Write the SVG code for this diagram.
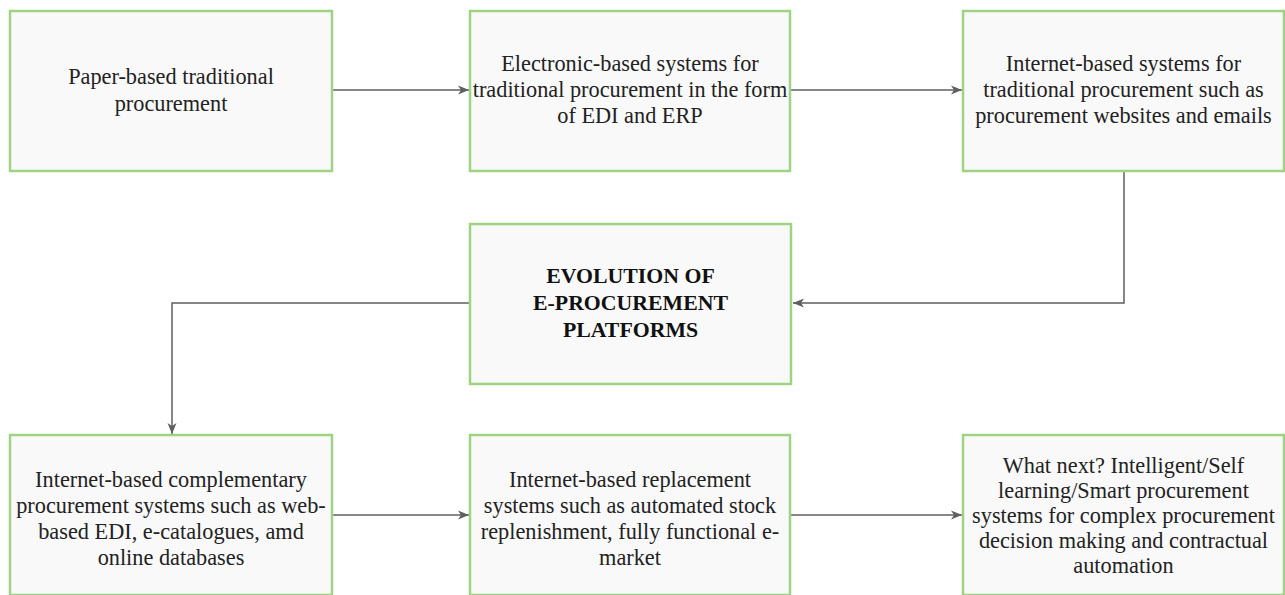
<svg xmlns="http://www.w3.org/2000/svg" width="1285" height="595" viewBox="0 0 1285 595">
  <defs>
    <style>
      .box { fill: #f9f9f9; stroke: #9fd384; stroke-width: 2.5; }
      .t { font-family: "Liberation Serif", "Times New Roman", serif; font-size: 22.3px; fill: #222; text-anchor: middle; }
      .b { font-family: "Liberation Serif", "Times New Roman", serif; font-size: 21.8px; font-weight: bold; fill: #111; text-anchor: middle; }
      .c { fill: none; stroke: #5f5f5f; stroke-width: 1.5; }
    </style>
    <marker id="arr" markerUnits="userSpaceOnUse" markerWidth="12" markerHeight="10" refX="11" refY="5" orient="auto">
      <path d="M0,0.5 L11,5 L0,9.5 L3,5 Z" fill="#5f5f5f"/>
    </marker>
  </defs>
  <rect width="1285" height="595" fill="#ffffff"/>

  <g id="connectors">
    <path class="c" d="M332,90 L469,90" marker-end="url(#arr)"/>
    <path class="c" d="M790,90 L962,90" marker-end="url(#arr)"/>
    <path class="c" d="M1124,171 L1124,303 L793,303" marker-end="url(#arr)"/>
    <path class="c" d="M470,303 L172,303 L172,434" marker-end="url(#arr)"/>
    <path class="c" d="M332,515 L469,515" marker-end="url(#arr)"/>
    <path class="c" d="M790,515 L962,515" marker-end="url(#arr)"/>
  </g>

  <g id="n1">
    <rect class="box" x="10" y="11" width="322" height="160"/>
    <text class="t" x="171" y="84">Paper-based traditional</text>
    <text class="t" x="171" y="111">procurement</text>
  </g>
  <g id="n2">
    <rect class="box" x="470" y="11" width="320" height="160"/>
    <text class="t" x="630" y="71">Electronic-based systems for</text>
    <text class="t" x="630" y="97">traditional procurement in the form</text>
    <text class="t" x="630" y="123">of EDI and ERP</text>
  </g>
  <g id="n3">
    <rect class="box" x="963" y="11" width="321" height="160"/>
    <text class="t" x="1123.5" y="71">Internet-based systems for</text>
    <text class="t" x="1123.5" y="97">traditional procurement such as</text>
    <text class="t" x="1123.5" y="123">procurement websites and emails</text>
  </g>
  <g id="center">
    <rect class="box" x="470" y="224" width="321" height="160"/>
    <text class="b" x="630.5" y="283">EVOLUTION OF</text>
    <text class="b" x="630.5" y="310">E-PROCUREMENT</text>
    <text class="b" x="630.5" y="337">PLATFORMS</text>
  </g>
  <g id="n4">
    <rect class="box" x="10" y="435" width="322" height="160"/>
    <text class="t" x="171" y="487">Internet-based complementary</text>
    <text class="t" x="171" y="513">procurement systems such as web-</text>
    <text class="t" x="171" y="539">based EDI, e-catalogues, amd</text>
    <text class="t" x="171" y="565">online databases</text>
  </g>
  <g id="n5">
    <rect class="box" x="470" y="435" width="320" height="160"/>
    <text class="t" x="630" y="487">Internet-based replacement</text>
    <text class="t" x="630" y="513">systems such as automated stock</text>
    <text class="t" x="630" y="539">replenishment, fully functional e-</text>
    <text class="t" x="630" y="565">market</text>
  </g>
  <g id="n6">
    <rect class="box" x="963" y="435" width="321" height="160"/>
    <text class="t" x="1123.5" y="473">What next? Intelligent/Self</text>
    <text class="t" x="1123.5" y="498">learning/Smart procurement</text>
    <text class="t" x="1123.5" y="523">systems for complex procurement</text>
    <text class="t" x="1123.5" y="548">decision making and contractual</text>
    <text class="t" x="1123.5" y="573">automation</text>
  </g>
</svg>
